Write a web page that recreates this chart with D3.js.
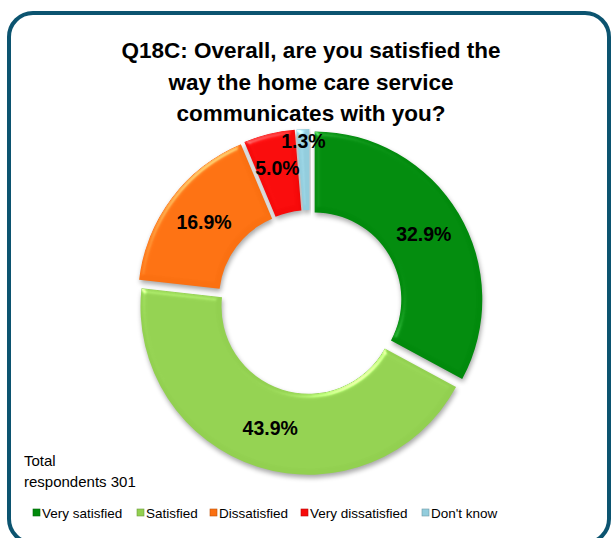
<!DOCTYPE html>
<html>
<head>
<meta charset="utf-8">
<script src="https://cdn.jsdelivr.net/npm/d3@7/dist/d3.min.js"></script>
<style>
  html, body { margin: 0; padding: 0; background: #ffffff; }
  svg { display: block; font-family: Arial, "Liberation Sans", sans-serif; }
</style>
</head>
<body>
<svg id="chart" width="614" height="538"></svg>
<script>
// Survey responses (percent of respondents)
const categories = ["Very satisfied", "Satisfied", "Dissatisfied", "Very dissatisfied", "Don't know"];
const values = [32.9, 43.9, 16.9, 5.0, 1.3];
const colors = ["#018a0c", "#92d050", "#fb7011", "#f70a0a", "#93cddd"];
const titleLines = ["Q18C: Overall, are you satisfied the", "way the home care service", "communicates with you?"];
const noteLines = ["Total", "respondents 301"];

const svg = d3.select("#chart");

// Filters: soft drop shadow and a bevelled edge on each segment
const defs = svg.append("defs");
const bevel = defs.append("filter").attr("id", "bevel")
  .attr("color-interpolation-filters", "sRGB")
  .attr("x", "-10%").attr("y", "-10%").attr("width", "120%").attr("height", "120%");
bevel.append("feGaussianBlur").attr("in", "SourceAlpha").attr("stdDeviation", 2.5).attr("result", "blur");
const spec = bevel.append("feSpecularLighting").attr("in", "blur")
  .attr("surfaceScale", 3).attr("specularConstant", 0.5).attr("specularExponent", 20)
  .attr("lighting-color", "#ffffff").attr("result", "spec");
spec.append("feDistantLight").attr("azimuth", 235).attr("elevation", 25);
bevel.append("feComposite").attr("in", "spec").attr("in2", "SourceAlpha").attr("operator", "in").attr("result", "specIn");
bevel.append("feComposite").attr("in", "SourceGraphic").attr("in2", "specIn")
  .attr("operator", "arithmetic").attr("k1", 0).attr("k2", 1).attr("k3", 0.7).attr("k4", 0).attr("result", "lit");
bevel.append("feGaussianBlur").attr("in", "SourceAlpha").attr("stdDeviation", 2.5).attr("result", "sblur");
bevel.append("feOffset").attr("in", "sblur").attr("dx", 1).attr("dy", 3).attr("result", "soff");
bevel.append("feComponentTransfer").attr("in", "soff").attr("result", "shadow")
  .append("feFuncA").attr("type", "linear").attr("slope", 0.35);
const merge = bevel.append("feMerge");
merge.append("feMergeNode").attr("in", "shadow");
merge.append("feMergeNode").attr("in", "lit");

// Frame
svg.append("rect")
  .attr("x", 9).attr("y", 13).attr("width", 600).attr("height", 530)
  .attr("rx", 24).attr("ry", 24)
  .attr("fill", "#ffffff").attr("stroke", "#0c5470").attr("stroke-width", 4);

// Title
svg.append("g").selectAll("text").data(titleLines).join("text")
  .attr("x", 311).attr("y", (d, i) => 58 + i * 31.5)
  .attr("text-anchor", "middle")
  .attr("font-size", 22.5).attr("font-weight", "bold").attr("fill", "#000")
  .text(d => d);

// Donut
const cx = 310, cy = 302, rOuter = 168, rInner = 87, explode = 5;
const pie = d3.pie().sort(null).value(d => d.value);
const arcs = pie(categories.map((c, i) => ({ cat: c, value: values[i], color: colors[i] })));
const arc = d3.arc().innerRadius(rInner).outerRadius(rOuter).padAngle(0.004);

const g = svg.append("g").attr("transform", `translate(${cx},${cy})`);
const offset = d => {
  const a = (d.startAngle + d.endAngle) / 2;
  return [Math.sin(a) * explode, -Math.cos(a) * explode];
};

g.selectAll("path.slice").data(arcs).join("path")
  .attr("class", "slice")
  .attr("d", arc)
  .attr("transform", d => `translate(${offset(d)})`)
  .attr("fill", d => d.data.color)
  .attr("filter", "url(#bevel)");

// Data labels: at the segment centroid, the smallest one pushed outward
const labelRadius = d => d.data.value < 3 ? 156 : (rInner + rOuter) / 2 + (d.data.value < 8 ? 5 : 0);
g.selectAll("text.lbl").data(arcs).join("text")
  .attr("class", "lbl")
  .attr("x", d => { const a = (d.startAngle + d.endAngle) / 2; return Math.sin(a) * labelRadius(d) + offset(d)[0]; })
  .attr("y", d => { const a = (d.startAngle + d.endAngle) / 2; return -Math.cos(a) * labelRadius(d) + offset(d)[1]; })
  .attr("dy", "0.36em")
  .attr("text-anchor", "middle")
  .attr("font-size", 19.5).attr("font-weight", "bold").attr("fill", "#000")
  .text(d => d3.format(".1f")(d.data.value) + "%");

// Respondent note
svg.append("g").selectAll("text").data(noteLines).join("text")
  .attr("x", 24).attr("y", (d, i) => 466 + i * 21)
  .attr("font-size", 15).attr("fill", "#000")
  .text(d => d);

// Legend
const legendX = [33, 137, 210, 301, 422];
const legend = svg.append("g").selectAll("g").data(categories).join("g")
  .attr("transform", (d, i) => `translate(${legendX[i]},509)`);
legend.append("rect")
  .attr("width", 7).attr("height", 7)
  .attr("fill", (d, i) => colors[i])
  .attr("stroke", (d, i) => d3.color(colors[i]).darker(0.8)).attr("stroke-width", 0.6);
legend.append("text")
  .attr("x", 9).attr("y", 9)
  .attr("font-size", 13.5).attr("fill", "#000")
  .text(d => d);
</script>
</body>
</html>
